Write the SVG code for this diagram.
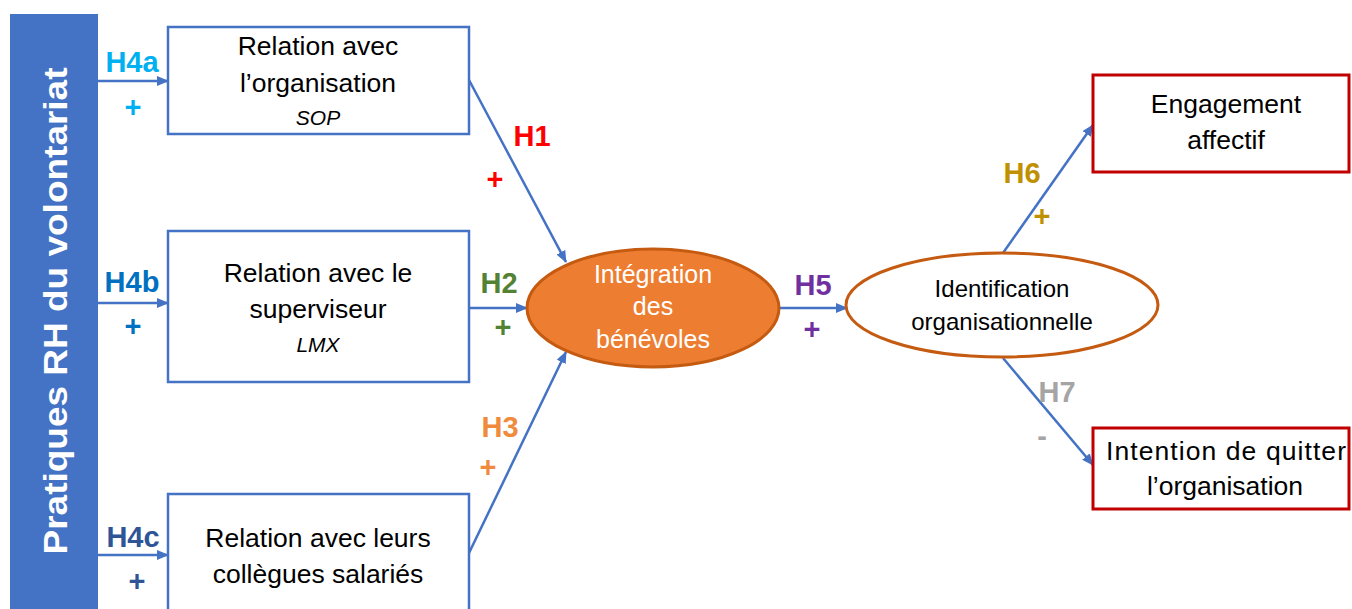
<svg xmlns="http://www.w3.org/2000/svg" width="1352" height="609" viewBox="0 0 1352 609">
<style>
.box{fill:#fff;stroke:#4472C4;stroke-width:2.5}
.rbox{fill:#fff;stroke:#C00000;stroke-width:3}
.t{font-family:"Liberation Sans",Arial,sans-serif;font-size:26.5px;fill:#000;text-anchor:middle}
.it{font-family:"Liberation Sans",Arial,sans-serif;font-size:21px;font-style:italic;fill:#000;text-anchor:middle}
.h{font-family:"Liberation Sans",Arial,sans-serif;font-size:29px;font-weight:bold;text-anchor:middle}
.c{stroke:#4472C4;stroke-width:2.5;fill:none;marker-end:url(#ah)}
</style>
<defs>
<marker id="ah" markerUnits="userSpaceOnUse" markerWidth="12" markerHeight="10" refX="11" refY="5" orient="auto">
<path d="M0,0 L12,5 L0,10 z" fill="#4472C4"/>
</marker>
</defs>
<rect width="1352" height="609" fill="#fff"/>
<g id="bar">
<rect x="10" y="14" width="88" height="600" fill="#4472C4"/>
<text transform="translate(67,311) rotate(-90)" font-family="'Liberation Sans',Arial,sans-serif" font-size="33" font-weight="bold" fill="#fff" text-anchor="middle" textLength="487" lengthAdjust="spacingAndGlyphs">Pratiques RH du volontariat</text>
</g>
<g id="connectors">
<line class="c" x1="98" y1="81" x2="168" y2="81"/>
<line class="c" x1="98" y1="303" x2="168" y2="303"/>
<line class="c" x1="98" y1="555" x2="168" y2="555"/>
<line class="c" x1="469" y1="80" x2="566" y2="262"/>
<line class="c" x1="469" y1="308" x2="527" y2="308"/>
<line class="c" x1="469" y1="553" x2="566" y2="352"/>
<line class="c" x1="780" y1="308" x2="847" y2="308"/>
<line class="c" x1="1003" y1="253" x2="1093" y2="125"/>
<line class="c" x1="1003" y1="358" x2="1093" y2="465"/>
</g>
<g id="labels">
<text class="h" x="132" y="72" fill="#00B0F0">H4a</text>
<text class="h" x="133" y="117" fill="#00B0F0">+</text>
<text class="h" x="132" y="292" fill="#0070C0">H4b</text>
<text class="h" x="133" y="336" fill="#0070C0">+</text>
<text class="h" x="133" y="547" fill="#2F5597">H4c</text>
<text class="h" x="137" y="591" fill="#2F5597">+</text>
<text class="h" x="532" y="146" fill="#FF0000">H1</text>
<text class="h" x="495" y="189" fill="#FF0000">+</text>
<text class="h" x="499" y="293" fill="#548235">H2</text>
<text class="h" x="503" y="337" fill="#548235">+</text>
<text class="h" x="500" y="437" fill="#F08A3C">H3</text>
<text class="h" x="488" y="477" fill="#F08A3C">+</text>
<text class="h" x="813" y="295" fill="#7030A0">H5</text>
<text class="h" x="812" y="339" fill="#7030A0">+</text>
<text class="h" x="1022" y="183" fill="#BF9000">H6</text>
<text class="h" x="1042" y="226" fill="#BF9000">+</text>
<text class="h" x="1057" y="402" fill="#A5A5A5">H7</text>
<text class="h" x="1042" y="446" fill="#A5A5A5">-</text>
</g>
<g id="box-sop">
<rect class="box" x="168" y="27" width="301" height="107"/>
<text class="t" x="318" y="55">Relation avec</text>
<text class="t" x="318" y="92">l’organisation</text>
<text class="it" x="318" y="125">SOP</text>
</g>
<g id="box-lmx">
<rect class="box" x="168" y="231" width="301" height="151"/>
<text class="t" x="318" y="282">Relation avec le</text>
<text class="t" x="318" y="318">superviseur</text>
<text class="it" x="318" y="352">LMX</text>
</g>
<g id="box-colleagues">
<rect class="box" x="168" y="494" width="301" height="130"/>
<text class="t" x="318" y="547">Relation avec leurs</text>
<text class="t" x="318" y="583">collègues salariés</text>
</g>
<g id="integration">
<ellipse cx="653" cy="308" rx="126" ry="59" fill="#ED7D31" stroke="#C55A11" stroke-width="3"/>
<text class="t" x="653" y="283" style="fill:#fff;font-size:25px">Intégration</text>
<text class="t" x="653" y="315" style="fill:#fff;font-size:25px">des</text>
<text class="t" x="653" y="348" style="fill:#fff;font-size:25px">bénévoles</text>
</g>
<g id="identification">
<ellipse cx="1002" cy="305" rx="156" ry="52" fill="#fff" stroke="#C55A11" stroke-width="3"/>
<text class="t" x="1002" y="297" style="font-size:24px">Identification</text>
<text class="t" x="1002" y="330" style="font-size:24px">organisationnelle</text>
</g>
<g id="engagement">
<rect class="rbox" x="1093" y="75" width="256" height="97"/>
<text class="t" x="1226" y="113">Engagement</text>
<text class="t" x="1226" y="149">affectif</text>
</g>
<g id="intention">
<rect class="rbox" x="1093" y="428" width="256" height="81"/>
<text class="t" x="1226" y="460" textLength="240" lengthAdjust="spacing">Intention de quitter</text>
<text class="t" x="1225" y="495">l’organisation</text>
</g>
</svg>
